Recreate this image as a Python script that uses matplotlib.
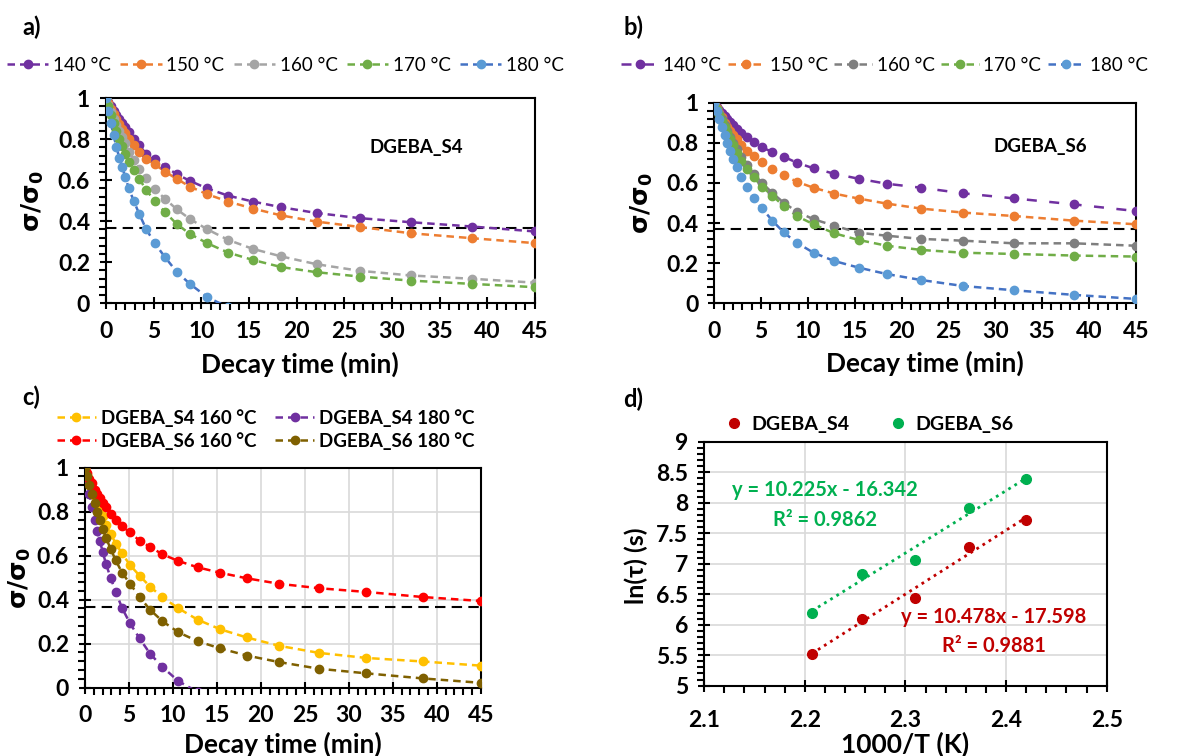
import numpy as np
import matplotlib
matplotlib.use("Agg")
import matplotlib.pyplot as plt
from matplotlib.ticker import MultipleLocator, FuncFormatter
from matplotlib.lines import Line2D

plt.rcParams['font.family'] = ['Lato', 'DejaVu Sans']
plt.rcParams['font.weight'] = 'bold'
plt.rcParams['mathtext.fontset'] = 'dejavusans'

# decay times (min), shared by all relaxation curves
time_min = [0, 0.25, 0.5, 0.8, 1.1, 1.4, 1.7, 2.0, 2.4, 2.9, 3.5, 4.2, 5.1, 6.2,
            7.4, 8.8, 10.6, 12.8, 15.4, 18.4, 22.1, 26.6, 32.0, 38.4, 45.0]
temp_labels = ['140 °C', '150 °C', '160 °C', '170 °C', '180 °C']
nan = np.nan

# DGEBA_S4 normalised stress
s4_140 = [1, 0.98, 0.96, 0.94, 0.92, 0.9, 0.88, 0.86, 0.835, 0.80, 0.77, 0.73, 0.706,
          0.667, 0.63, 0.597, 0.56, 0.525, 0.496, 0.468, 0.44, 0.415, 0.395, 0.374, 0.35]
s4_150 = [1, 0.975, 0.95, 0.925, 0.9, 0.875, 0.85, 0.83, 0.80, 0.77, 0.74, 0.706, 0.678,
          0.642, 0.607, 0.569, 0.532, 0.496, 0.462, 0.428, 0.398, 0.372, 0.341, 0.317, 0.293]
s4_160 = [1, 0.965, 0.935, 0.9, 0.87, 0.84, 0.81, 0.78, 0.74, 0.70, 0.655, 0.61, 0.558,
          0.509, 0.459, 0.411, 0.361, 0.309, 0.265, 0.228, 0.19, 0.158, 0.135, 0.119, 0.10]
s4_170 = [1, 0.96, 0.92, 0.88, 0.84, 0.80, 0.765, 0.73, 0.69, 0.65, 0.607, 0.553, 0.50,
          0.444, 0.387, 0.338, 0.293, 0.247, 0.211, 0.176, 0.151, 0.13, 0.11, 0.094, 0.078]
s4_180 = [1, 0.94, 0.88, 0.82, 0.76, 0.71, 0.665, 0.618, 0.56, 0.50, 0.434, 0.363, 0.293,
          0.224, 0.154, 0.094, 0.03, -0.02, nan, nan, nan, nan, nan, nan, nan]

# DGEBA_S6 normalised stress
s6_140 = [1, 0.98, 0.965, 0.95, 0.935, 0.92, 0.905, 0.89, 0.87, 0.85, 0.827, 0.804, 0.777,
          0.754, 0.731, 0.701, 0.673, 0.646, 0.621, 0.596, 0.576, 0.548, 0.523, 0.493, 0.46]
s6_150 = [1, 0.975, 0.95, 0.93, 0.9, 0.88, 0.86, 0.84, 0.82, 0.79, 0.76, 0.734, 0.706,
          0.668, 0.64, 0.606, 0.576, 0.547, 0.522, 0.497, 0.472, 0.452, 0.435, 0.412, 0.394]
s6_160 = [1, 0.97, 0.945, 0.92, 0.89, 0.86, 0.83, 0.8, 0.77, 0.73, 0.69, 0.645, 0.6,
          0.55, 0.502, 0.457, 0.419, 0.387, 0.352, 0.337, 0.321, 0.312, 0.299, 0.299, 0.287]
s6_170 = [1, 0.97, 0.94, 0.91, 0.88, 0.85, 0.82, 0.79, 0.75, 0.71, 0.669, 0.628, 0.581,
          0.537, 0.485, 0.435, 0.394, 0.349, 0.316, 0.287, 0.266, 0.252, 0.246, 0.238, 0.233]
s6_180 = [1, 0.96, 0.92, 0.88, 0.84, 0.8, 0.76, 0.72, 0.68, 0.631, 0.578, 0.523, 0.473,
          0.412, 0.354, 0.302, 0.252, 0.211, 0.178, 0.146, 0.116, 0.086, 0.065, 0.042, 0.022]

threshold = 0.368  # 1/e

# panel c comparison
c_labels = ['DGEBA_S4 160 °C', 'DGEBA_S4 180 °C', 'DGEBA_S6 160 °C', 'DGEBA_S6 180 °C']
c_series = [s4_160, s4_180, s6_150, s6_180]

# panel d Arrhenius data
inv_T = [2.207, 2.257, 2.309, 2.363, 2.420]
ln_tau_s4 = [5.52, 6.09, 6.43, 7.28, 7.72]
ln_tau_s6 = [6.20, 6.83, 7.06, 7.91, 8.39]
fit_s4 = (10.478, -17.598, 0.9881)
fit_s6 = (10.225, -16.342, 0.9862)

col_a = ['#7030A0', '#ED7D31', '#A5A5A5', '#70AD47', '#5B9BD5']
col_b = ['#7030A0', '#ED7D31', '#7F7F7F', '#70AD47', '#5B9BD5']
line_blue = '#4472C4'
col_c = ['#FFC000', '#7030A0', '#FF0000', '#7F6000']
red, green = '#C00000', '#00B050'

fig = plt.figure(figsize=(11.83, 7.56), dpi=100)
ax_a = fig.add_axes([0.0896, 0.599, 0.3626, 0.271])
ax_b = fig.add_axes([0.6038, 0.5988, 0.3562, 0.2654])
ax_c = fig.add_axes([0.0719, 0.0904, 0.3345, 0.291])
ax_d = fig.add_axes([0.5953, 0.093, 0.3402, 0.3227])

fmt = FuncFormatter(lambda v, _: f'{v:g}')


def style_axes(ax, xmaj, xmin, ymaj, ymin):
    ax.xaxis.set_major_locator(MultipleLocator(xmaj))
    ax.xaxis.set_minor_locator(MultipleLocator(xmin))
    ax.yaxis.set_major_locator(MultipleLocator(ymaj))
    ax.yaxis.set_minor_locator(MultipleLocator(ymin))
    ax.xaxis.set_major_formatter(fmt)
    ax.yaxis.set_major_formatter(fmt)
    ax.tick_params(which='major', direction='inout', length=9, width=1.5,
                   labelsize=16.5, top=False, right=False)
    ax.tick_params(which='minor', direction='out', length=5, width=1.5,
                   top=False, right=False)
    ax.tick_params(axis='x', which='major', pad=8)
    ax.tick_params(axis='y', which='major', pad=7)
    for sp in ax.spines.values():
        sp.set_linewidth(1.5)


def decay_panel(ax, series, colors, dashes, tag, tag_xy, ylab_x, xlab_y, xlab_x=0.5):
    for i, (vals, c) in enumerate(zip(series, colors)):
        lc = line_blue if c == '#5B9BD5' else c
        ax.plot(time_min, vals, color=lc, ls='--', dashes=dashes[i], lw=1.8, zorder=3)
        ax.plot(time_min, vals, ls='none', marker='o', ms=6, color=c, zorder=4)
    ax.axhline(threshold, color='black', ls='--', dashes=(5, 3), lw=1.5, zorder=2)
    ax.set_xlim(0, 45)
    ax.set_ylim(0, 1)
    style_axes(ax, 5, 1, 0.2, 0.04)
    ax.set_ylabel(r'$\mathbf{\sigma/\sigma_0}$', fontsize=18)
    ax.yaxis.set_label_coords(ylab_x, 0.5)
    ax.set_xlabel('Decay time (min)', fontsize=19, fontweight='bold')
    ax.xaxis.set_label_coords(xlab_x, xlab_y)
    if tag:
        ax.text(tag_xy[0], tag_xy[1], tag, fontsize=13.5, fontweight='bold',
                ha='center', va='center')


def legend_handles(colors, dashes):
    hs = []
    for c, d in zip(colors, dashes):
        lc = line_blue if c == '#5B9BD5' else c
        hs.append(Line2D([], [], color=lc, ls='--', dashes=d, lw=1.8,
                         marker='o', ms=6, mfc=c, mec=c))
    return hs


dash_a = [(3, 2)] * 5
dash_b = [(4, 5)] + [(3, 2)] * 4

decay_panel(ax_a, [s4_140, s4_150, s4_160, s4_170, s4_180], col_a, dash_a,
            'DGEBA_S4', (32.6, 0.76), -0.14, -0.235, 0.452)
decay_panel(ax_b, [s6_140, s6_150, s6_160, s6_170, s6_180], col_b, dash_b,
            'DGEBA_S6', (34.8, 0.78), -0.14, -0.235)
decay_panel(ax_c, c_series, col_c, [(3, 2)] * 4, None, None, -0.131, -0.2)
ax_c.grid(True, which='major', color='#D9D9D9', lw=1.2, zorder=0)
ax_c.set_axisbelow(True)

leg_kw = dict(frameon=False, handletextpad=0.25, numpoints=1,
              borderaxespad=0, borderpad=0)
fig.legend(legend_handles(col_a, dash_a), temp_labels, loc='center left',
           bbox_to_anchor=(0.006, 0.914), ncol=5, columnspacing=0.5, handlelength=2.2,
           prop=dict(size=13.5, weight='normal'), **leg_kw)
fig.legend(legend_handles(col_b, dash_b), temp_labels, loc='center left',
           bbox_to_anchor=(0.525, 0.914), ncol=5, columnspacing=0.35, handlelength=2.0,
           prop=dict(size=13.5, weight='normal'), **leg_kw)
# row-wise order: S4 160, S4 180 / S6 160, S6 180
c_hand = legend_handles(col_c, [(3, 2)] * 4)
order = [0, 2, 1, 3]
fig.legend([c_hand[i] for i in order], [c_labels[i] for i in order], loc='center left',
           bbox_to_anchor=(0.048, 0.432), ncol=2, columnspacing=1.0, handlelength=2.1,
           labelspacing=0.3, prop=dict(size=13.5, weight='bold'), **leg_kw)

# panel d
ax_d.plot(inv_T, ln_tau_s4, 'o', color=red, ms=7, zorder=4)
ax_d.plot(inv_T, ln_tau_s6, 'o', color=green, ms=7, zorder=4)
xfit = np.array([inv_T[0], inv_T[-1]])
ax_d.plot(xfit, fit_s4[0] * xfit + fit_s4[1], ls=(0, (1, 1.6)), color=red, lw=2, zorder=3)
ax_d.plot(xfit, fit_s6[0] * xfit + fit_s6[1], ls=(0, (1, 1.6)), color=green, lw=2, zorder=3)
ax_d.set_xlim(2.1, 2.5)
ax_d.set_ylim(5, 9)
style_axes(ax_d, 0.1, 0.02, 0.5, 0.1)
ax_d.tick_params(axis='x', which='major', pad=13)
ax_d.grid(True, which='major', color='#D9D9D9', lw=1.2, zorder=0)
ax_d.set_axisbelow(True)
ax_d.set_ylabel('ln(τ) (s)', fontsize=18, fontweight='bold')
ax_d.yaxis.set_label_coords(-0.139, 0.49)
ax_d.set_xlabel('1000/T (K)', fontsize=19, fontweight='bold')
ax_d.xaxis.set_label_coords(0.5, -0.19)
eq_kw = dict(fontsize=14.5, fontweight='bold', ha='center', va='center')
ax_d.text(2.22, 8.21, f'y = {fit_s6[0]:.3f}x - {-fit_s6[1]:.3f}', color=green, **eq_kw)
ax_d.text(2.22, 7.72, f'R² = {fit_s6[2]:.4f}', color=green, **eq_kw)
ax_d.text(2.388, 6.13, f'y = {fit_s4[0]:.3f}x - {-fit_s4[1]:.3f}', color=red, **eq_kw)
ax_d.text(2.388, 5.65, f'R² = {fit_s4[2]:.4f}', color=red, **eq_kw)

d_handles = [Line2D([], [], ls='none', marker='o', ms=7, color=red),
             Line2D([], [], ls='none', marker='o', ms=7, color=green)]
fig.legend(d_handles, ['DGEBA_S4', 'DGEBA_S6'], loc='center left',
           bbox_to_anchor=(0.612, 0.439), ncol=2, columnspacing=2.0,
           handlelength=1.0, handletextpad=0.4, frameon=False,
           prop=dict(size=14, weight='bold'), borderaxespad=0, borderpad=0)

for lab, x, y in [('a)', 0.019, 0.964), ('b)', 0.527, 0.964),
                  ('c)', 0.0186, 0.475), ('d)', 0.527, 0.472)]:
    fig.text(x, y, lab, fontsize=17, fontweight='bold', va='center')

fig.savefig('out.png', dpi=100)
